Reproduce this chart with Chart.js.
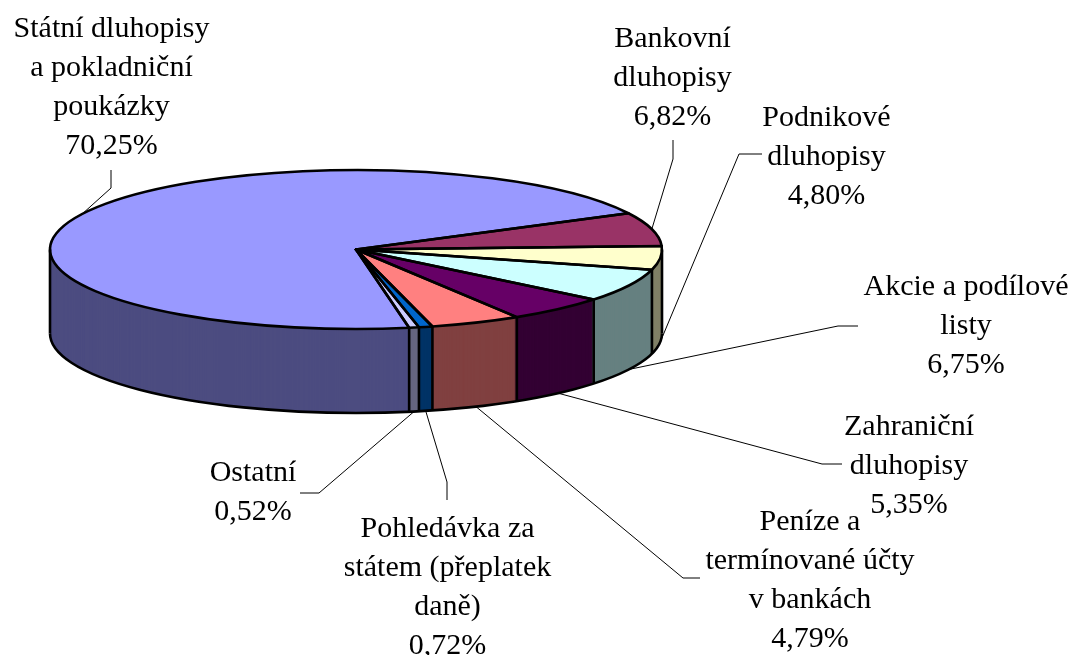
<!DOCTYPE html>
<html><head><meta charset="utf-8">
<script src="https://cdn.jsdelivr.net/npm/chart.js@4.4.0/dist/chart.umd.min.js"></script>
<style>html,body{margin:0;padding:0;background:#fff;}canvas{display:block;}</style>
</head><body>
<canvas id="c" width="1077" height="655"></canvas>
<script>
// ---- data ----
const categories = ['Státní dluhopisy a pokladniční poukázky','Bankovní dluhopisy','Podnikové dluhopisy','Akcie a podílové listy','Zahraniční dluhopisy','Peníze a termínované účty v bankách','Pohledávka za státem (přeplatek daně)','Ostatní'];
const values = [70.25, 6.82, 4.80, 6.75, 5.35, 4.79, 0.72, 0.52];
const labelLines = [
  ['Státní dluhopisy','a pokladniční','poukázky'],
  ['Bankovní','dluhopisy'],
  ['Podnikové','dluhopisy'],
  ['Akcie a podílové','listy'],
  ['Zahraniční','dluhopisy'],
  ['Peníze a','termínované účty','v bankách'],
  ['Pohledávka za','státem (přeplatek','daně)'],
  ['Ostatní']
];
// ---- styles ----
const topColors  = ['#9999FF','#993366','#FFFFCC','#CCFFFF','#660066','#FF8080','#0066CC','#CCCCFF'];
const sideColors = ['#4C4C80','#4D1A33','#808066','#668080','#330033','#804040','#003366','#666680'];
// ---- layout ----
const SCREEN_CY = 249.5, RADIUS_X = 306, RADIUS_Y = 79.5, DEPTH = 84;
const labelPos = [[111.5,36.5],[672.5,47],[826.5,126],[966,295],[909,435],[810,530],[447.5,537],[253,481]];
const leaderPts = [
  [[111,170],[111,188]],
  [[673,140],[673,159]],
  [[762,154],[739,154]],
  [[858,326],[838,326]],
  [[842,464],[822,464]],
  [[700,578],[683,578]],
  [[447,500],[447,482]],
  [[300,493],[319,493]]
];
const FONT = '30px "Liberation Serif", "Times New Roman", serif';
const LINE_H = 39;

function fmt(v){ return v.toFixed(2).replace('.', ',') + '%'; }

const pie3d = {
  id: 'pie3d',
  beforeDatasetsDraw(chart){
    const ctx = chart.ctx, arcs = chart.getDatasetMeta(0).data;
    const a0 = arcs[0], cx = a0.x, cy = a0.y, R = a0.outerRadius, k = RADIUS_Y / R;
    for (let d = DEPTH; d >= 1; d--) {
      ctx.save();
      ctx.translate(cx, SCREEN_CY + d); ctx.scale(1, k); ctx.translate(-cx, -cy);
      arcs.forEach((arc, i) => {
        const o = arc.options;
        arc.options = Object.assign({}, o, {backgroundColor: sideColors[i], borderWidth: 0});
        arc.draw(ctx);
        arc.options = o;
      });
      ctx.restore();
    }
    ctx.save();
    ctx.translate(cx, SCREEN_CY); ctx.scale(1, k); ctx.translate(-cx, -cy);
  },
  afterDatasetsDraw(chart){
    chart.ctx.restore();
  },
  afterDraw(chart){
    const ctx = chart.ctx;
    const arcs = chart.getDatasetMeta(0).data;
    const a0 = arcs[0], cx = a0.x, R = a0.outerRadius, RY = RADIUS_Y, cy = SCREEN_CY;
    ctx.save();
    ctx.setTransform(1, 0, 0, 1, 0, 0);
    ctx.strokeStyle = '#000000'; ctx.lineWidth = 2.6; ctx.lineJoin = 'round'; ctx.globalAlpha = 1;
    // bottom edge + extreme verticals
    ctx.beginPath();
    ctx.ellipse(cx, cy + DEPTH, R, RY, 0, 0, Math.PI);
    ctx.stroke();
    ctx.beginPath();
    ctx.moveTo(cx - R, cy); ctx.lineTo(cx - R, cy + DEPTH);
    ctx.moveTo(cx + R, cy); ctx.lineTo(cx + R, cy + DEPTH);
    ctx.stroke();
    // slice boundaries on the front wall
    ctx.beginPath();
    arcs.forEach(arc => {
      const t = arc.startAngle;
      if (Math.sin(t) > 0) {
        const x = cx + R * Math.cos(t), y = cy + RY * Math.sin(t);
        ctx.moveTo(x, y); ctx.lineTo(x, y + DEPTH);
      }
    });
    ctx.stroke();
    // top face outlines
    arcs.forEach(arc => {
      ctx.beginPath();
      ctx.moveTo(cx, cy);
      ctx.ellipse(cx, cy, R, RY, 0, arc.startAngle, arc.endAngle);
      ctx.closePath();
      ctx.stroke();
    });
    // leader lines
    ctx.lineWidth = 1;
    arcs.forEach((arc, i) => {
      const m = (arc.startAngle + arc.endAngle) / 2;
      const s = Math.sin(m);
      const ax = cx + R * Math.cos(m);
      const ay = cy + RY * s + (s > 0 ? DEPTH : 0);
      const p = leaderPts[i];
      ctx.beginPath();
      ctx.moveTo(p[0][0], p[0][1]); ctx.lineTo(p[1][0], p[1][1]); ctx.lineTo(ax, ay);
      ctx.stroke();
    });
    // labels
    ctx.fillStyle = '#000'; ctx.font = FONT; ctx.textAlign = 'center'; ctx.textBaseline = 'alphabetic';
    labelLines.forEach((lines, i) => {
      const all = lines.concat([fmt(values[i])]);
      all.forEach((t, j) => ctx.fillText(t, labelPos[i][0], labelPos[i][1] + j * LINE_H));
    });
    ctx.restore();
  }
};

new Chart(document.getElementById('c'), {
  type: 'pie',
  data: { labels: categories, datasets: [{ data: values, backgroundColor: topColors, borderWidth: 0, clip: false }] },
  options: {
    responsive: false, animation: false, events: [],
    rotation: 170, radius: RADIUS_X,
    layout: { padding: { right: 1077 - 2 * 356 } },
    plugins: { legend: { display: false }, tooltip: { enabled: false } }
  },
  plugins: [pie3d]
});
</script>
</body></html>
